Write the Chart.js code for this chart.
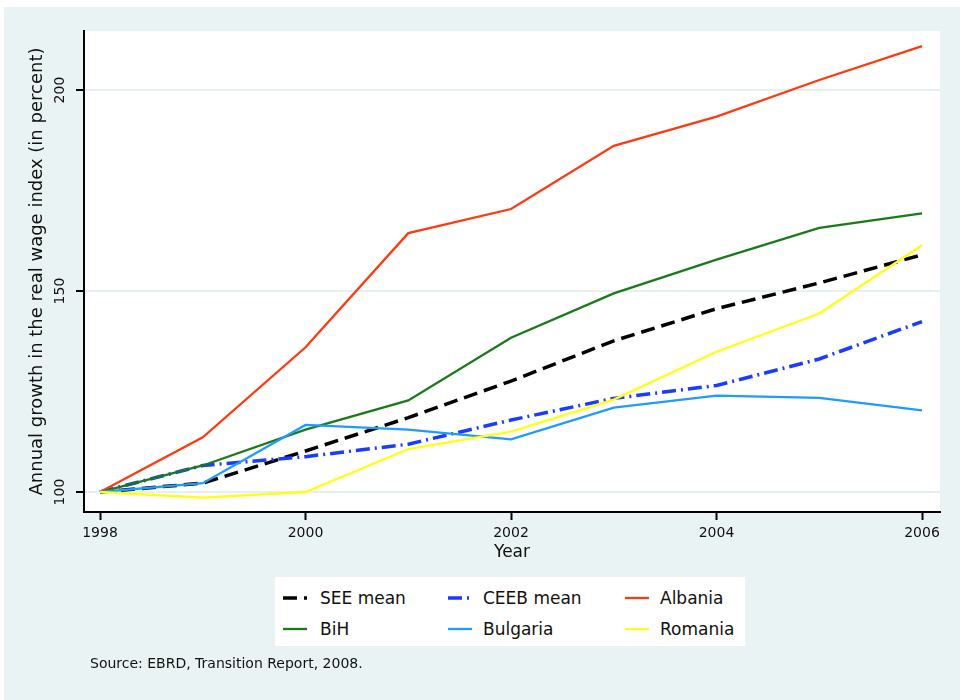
<!DOCTYPE html>
<html>
<head>
<meta charset="utf-8">
<script src="https://cdn.jsdelivr.net/npm/chart.js@4/dist/chart.umd.min.js"></script>
<style>
  html, body { margin: 0; padding: 0; background: #ffffff; }
  #wrap { position: relative; width: 960px; height: 700px; overflow: hidden; }
  #c { position: absolute; left: 0; top: 0; }
  #legend { position: absolute; left: 275px; top: 577px; width: 470px; height: 69px; background: #ffffff;
            font-family: "DejaVu Sans", sans-serif; font-size: 17px; color: #111; }
  .item { position: absolute; height: 24px; line-height: 24px; white-space: nowrap; }
  .item svg { position: absolute; left: 0; top: 0; }
  .item span { position: absolute; top: 0; }
  #source { position: absolute; left: 90px; top: 655px; font-family: "DejaVu Sans", sans-serif; font-size: 14px; color: #111; }
</style>
</head>
<body>
<div id="wrap">
  <canvas id="c" width="960" height="700"></canvas>
  <div id="legend"></div>
  <div id="source">Source: EBRD, Transition Report, 2008.</div>
</div>
<script>
const years = [1998, 1999, 2000, 2001, 2002, 2003, 2004, 2005, 2006];
const seriesNames = ["SEE mean", "CEEB mean", "Albania", "BiH", "Bulgaria", "Romania"];
const seeMean  = [100, 102.2, 110.2, 118.5, 127.6, 137.6, 145.6, 152.0, 159.0];
const ceebMean = [100, 106.6, 108.8, 111.9, 117.9, 123.3, 126.5, 133.1, 142.4];
const albania  = [100, 113.6, 136.0, 164.4, 170.4, 186.1, 193.4, 202.5, 210.9];
const bih      = [100, 106.6, 115.5, 122.8, 138.4, 149.4, 157.8, 165.7, 169.3];
const bulgaria = [100, 102.2, 116.7, 115.5, 113.1, 121.0, 124.0, 123.4, 120.3];
const romania  = [100, 98.6, 100.0, 110.7, 115.0, 123.0, 134.9, 144.4, 161.4];
const xTicks = [1998, 2000, 2002, 2004, 2006];
const yTicks = [100, 150, 200];

const values = [seeMean, ceebMean, albania, bih, bulgaria, romania];
const colors = ["#000000", "#1a3cff", "#ff3a10", "#1a7a1a", "#1e9bff", "#ffff14"];
const widths = [3.5, 3.5, 2.3, 2.3, 2.3, 2.3];
const dashes = [[14, 7], [14, 5, 2, 5], [], [], [], []];

const datasets = seriesNames.map((name, i) => ({
  label: name,
  data: years.map((yr, j) => ({ x: yr, y: values[i][j] })),
  borderColor: colors[i],
  backgroundColor: colors[i],
  borderWidth: widths[i],
  borderDash: dashes[i],
  borderCapStyle: 'butt',
  pointRadius: 0,
  tension: 0,
  fill: false,
  order: seriesNames.length - i
}));

const bgPlugin = {
  id: 'bg',
  beforeDraw(chart) {
    const { ctx, chartArea: a } = chart;
    ctx.save();
    ctx.fillStyle = '#eaf3f3';
    ctx.fillRect(4, 7, 956, 693);
    ctx.fillStyle = '#ffffff';
    ctx.fillRect(a.left, a.top, a.right - a.left, a.bottom - a.top);
    ctx.restore();
  }
};

const FONT = "'DejaVu Sans', sans-serif";

new Chart(document.getElementById('c'), {
  type: 'line',
  data: { datasets },
  plugins: [bgPlugin],
  options: {
    responsive: false,
    animation: false,
    layout: { padding: { left: 0, top: 31, right: 20, bottom: 132 } },
    plugins: { legend: { display: false }, tooltip: { enabled: false } },
    scales: {
      x: {
        type: 'linear',
        min: 1997.844, max: 2006.175,
        afterBuildTicks: s => { s.ticks = xTicks.map(v => ({ value: v })); },
        afterFit: s => { s.height = 56; },
        ticks: { autoSkip: false, maxRotation: 0, padding: 5, color: '#111',
                 font: { family: FONT, size: 14 }, callback: v => String(v) },
        grid: { drawOnChartArea: false, tickLength: 8, tickColor: '#000', tickWidth: 2 },
        border: { color: '#000', width: 2 },
        title: { display: true, text: 'Year', color: '#111', font: { family: FONT, size: 17 },
                 padding: { top: 0, bottom: 5 } }
      },
      y: {
        type: 'linear',
        min: 95.03, max: 214.68,
        afterBuildTicks: s => { s.ticks = yTicks.map(v => ({ value: v })); },
        afterFit: s => { s.width = 84; },
        ticks: { autoSkip: false, minRotation: 90, maxRotation: 90, crossAlign: 'center', padding: 2,
                 color: '#111', font: { family: FONT, size: 14 }, callback: v => String(v) },
        grid: { color: '#e6f0f0', lineWidth: 2, tickLength: 8, tickColor: '#000', tickWidth: 2 },
        border: { color: '#000', width: 2 },
        title: { display: true, text: 'Annual growth in the real wage index (in percent)', color: '#111',
                 font: { family: FONT, size: 18 }, padding: { top: 27, bottom: 0 } }
      }
    }
  }
});

// legend built from the same series definitions
const legend = document.getElementById('legend');
const colX = [8, 173, 350];
const textX = [45, 208, 385];
const rowY = [9, 40];
seriesNames.forEach((name, i) => {
  const col = i % 3, row = Math.floor(i / 3);
  const div = document.createElement('div');
  div.className = 'item';
  div.style.left = colX[col] + 'px';
  div.style.top = rowY[row] + 'px';
  const dash = dashes[i].length ? dashes[i].join(' ') : 'none';
  div.innerHTML = '<svg width="26" height="24"><line x1="0" y1="12" x2="24" y2="12" stroke="' + colors[i] +
    '" stroke-width="' + widths[i] + '" stroke-dasharray="' + dash + '"/></svg>' +
    '<span style="left:' + (textX[col] - colX[col]) + 'px"></span>';
  div.querySelector('span').textContent = name;
  legend.appendChild(div);
});
</script>
</body>
</html>
